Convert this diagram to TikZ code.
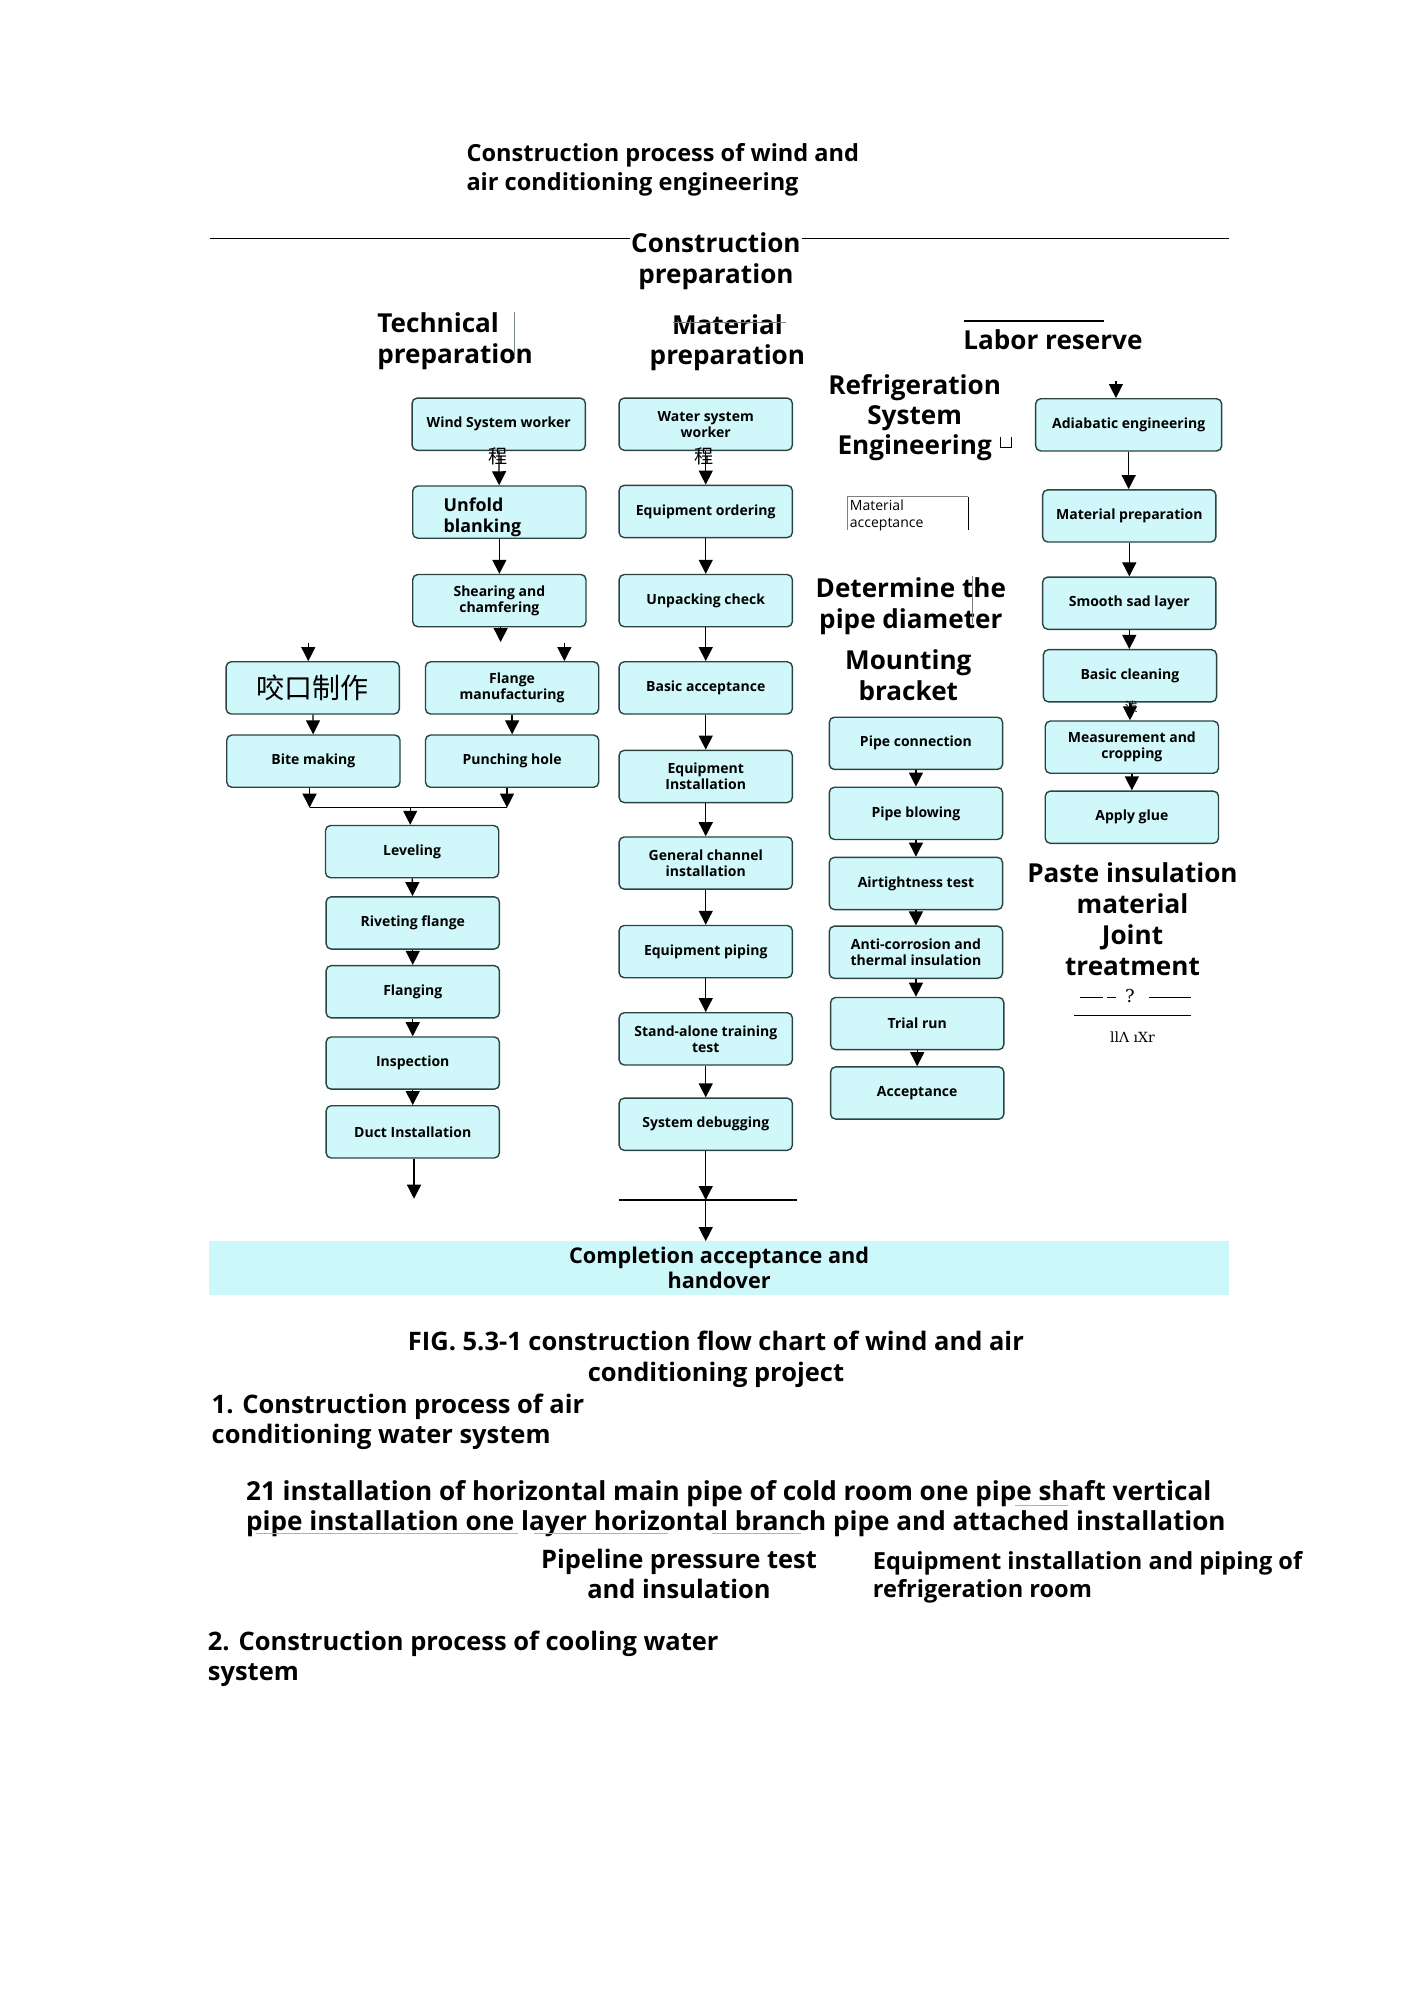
\documentclass[tikz,border=0pt]{standalone}
\usepackage{fontspec}
\setmainfont{Open Sans}
\newfontfamily\cjk{Noto Sans CJK SC}
\newfontfamily\oddfont{DejaVu Serif}
\usetikzlibrary{arrows.meta}
\definecolor{boxfill}{RGB}{208,248,250}
\definecolor{boxline}{RGB}{42,68,68}
\definecolor{barfill}{RGB}{205,248,250}
\definecolor{markgray}{RGB}{120,135,140}
\tikzset{
  stepbox/.style={draw=boxline, fill=boxfill, rounded corners=4pt, line width=1.1pt,
    minimum width=136pt, minimum height=41pt, align=center, inner sep=2pt,
    font=\bfseries\fontsize{11}{12.5}\selectfont},
  flow/.style={arrows={-Triangle[length=11pt,width=11pt]}, line width=1pt},
  headtxt/.style={font=\bfseries\fontsize{20.5}{24}\selectfont, align=center, inner sep=0pt},
  bodytxt/.style={font=\bfseries\fontsize{20}{23.5}\selectfont, align=left, anchor=west, inner sep=0pt},
}
\begin{document}
\begin{tikzpicture}[x=1pt, y=-1pt]
\useasboundingbox (0,0) rectangle (1110,1570);

%headings
\node[bodytxt, font=\bfseries\fontsize{18.5}{23}\selectfont] (title) at (366,133.5)
  {Construction process of wind and\\air conditioning engineering};
\draw[line width=.8pt] (165,187) -- (965,187);
\node[headtxt, fill=white, inner xsep=1pt] (constprep) at (562,205) {Construction\\preparation};
\node[headtxt, align=left, anchor=west] (techprep) at (296,268) {Technical\\preparation};
\draw[markgray, line width=1.2pt] (404,245) -- (404,282);
\node[headtxt] (matprep) at (571,269) {Material\\preparation};
\draw[gray, line width=.6pt] (528,253) -- (617,253);
\node[headtxt, anchor=west] (labor) at (756,267) {Labor reserve};
\draw[line width=1.5pt] (757,252) -- (867,252);
\node[headtxt, font=\bfseries\fontsize{20.5}{23.5}\selectfont] (refrig) at (718,328)
  {Refrigeration\\System\\Engineering};
\draw[line width=.6pt] (785,343) -- (785,351) -- (794,351) -- (794,343);
\node[font=\fontsize{11}{13}\selectfont, align=left, anchor=west, inner sep=0pt] (matacc) at (667,404.5)
  {Material\\acceptance};
\draw[gray, line width=.6pt] (665,416) -- (665,390) -- (760,390);
\draw[line width=1pt] (760,390) -- (760,416);
\node[headtxt] (pipediam) at (715,476) {Determine the\\pipe diameter};
\draw[gray, line width=.6pt] (763,452) -- (763,490);
\node[headtxt] (bracket) at (713,530) {Mounting\\bracket};

%wind system
\node[stepbox] (windwk) at (391.5,333) {Wind System worker};
\node[stepbox] (unfold) at (392,402) {};
\node[font=\bfseries\fontsize{14}{16}\selectfont, align=left, anchor=west, inner sep=0pt]
  (unfoldtxt) at (348,406) {Unfold\\blanking};
\node[stepbox] (shear) at (392,471.5) {Shearing and\\chamfering};
\node[stepbox, font=\cjk\fontsize{22}{24}\selectfont] (bitecn) at (245.5,540) {咬口制作};
\node[stepbox] (flange) at (402,540) {Flange\\manufacturing};
\node[stepbox] (bite) at (246,597.5) {Bite making};
\node[stepbox] (punch) at (402,597.5) {Punching hole};
\node[stepbox] (level) at (323.5,668.5) {Leveling};
\node[stepbox] (rivet) at (324,724.5) {Riveting flange};
\node[stepbox] (flanging) at (324,778.5) {Flanging};
\node[stepbox] (inspect) at (324,834.5) {Inspection};
\node[stepbox] (duct) at (324,888.5) {Duct Installation};

\draw[flow] (windwk) -- (unfold);
\node[font=\cjk\fontsize{15}{15}\selectfont, inner sep=0pt] (glyphwind) at (391,358) {程};
\draw[flow] (unfold) -- (shear);
\coordinate (shearend) at (393,504);
\draw[flow] (shear.south -| shearend) -- (shearend);
\coordinate (bitetop) at (242,505);
\draw[flow] (bitetop) -- (bitetop |- bitecn.north);
\coordinate (flangetop) at (443,505);
\draw[flow] (flangetop) -- (flangetop |- flange.north);
\draw[flow] (bitecn) -- (bite);
\draw[flow] (flange) -- (punch);
\coordinate (joinL) at (243,634);
\coordinate (joinR) at (398,634);
\coordinate (joinM) at (322,634);
\draw[flow] (joinL |- bite.south) -- (joinL);
\draw[flow] (joinR |- punch.south) -- (joinR);
\draw[line width=1pt] (joinL) -- (joinR);
\draw[flow] (joinM) -- (joinM |- level.north);
\foreach \a/\b in {level/rivet, rivet/flanging, flanging/inspect, inspect/duct}
  \draw[flow] (\a) -- (\b);
\coordinate (ductend) at (325,941);
\draw[flow] (duct.south -| ductend) -- (ductend);

%water system
\node[stepbox] (waterwk) at (554,333) {Water system\\worker};
\node[stepbox] (order) at (554,401.5) {Equipment ordering};
\node[stepbox] (unpack) at (554,471.5) {Unpacking check};
\node[stepbox] (basicacc) at (554,540) {Basic acceptance};
\node[stepbox] (equipinst) at (554,609.5) {Equipment\\Installation};
\node[stepbox] (channel) at (554,677.5) {General channel\\installation};
\node[stepbox] (piping) at (554,747) {Equipment piping};
\node[stepbox] (single) at (554,815.5) {Stand-alone training\\test};
\node[stepbox] (debug) at (554,882.5) {System debugging};
\foreach \a/\b in {waterwk/order, order/unpack, unpack/basicacc, basicacc/equipinst,
  equipinst/channel, channel/piping, piping/single, single/debug}
  \draw[flow] (\a) -- (\b);
\node[font=\cjk\fontsize{15}{15}\selectfont, inner sep=0pt] (glyphwater) at (553,358) {程};

%refrigeration system
\node[stepbox] (pipeconn) at (719,583.5) {Pipe connection};
\node[stepbox] (blow) at (719,638.5) {Pipe blowing};
\node[stepbox] (airtight) at (719,693.5) {Airtightness test};
\node[stepbox] (anticorr) at (719,747.5) {Anti-corrosion and\\thermal insulation};
\node[stepbox] (trial) at (720,803.5) {Trial run};
\node[stepbox] (accept) at (720,858) {Acceptance};
\foreach \a/\b in {pipeconn/blow, blow/airtight, airtight/anticorr, anticorr/trial, trial/accept}
  \draw[flow] (\a.south) -- (\a.south |- \b.north);

%insulation
\node[stepbox, minimum width=146pt] (adiab) at (886,333.5) {Adiabatic engineering};
\node[stepbox] (matready) at (886.5,405) {Material preparation};
\node[stepbox] (smooth) at (886.5,473.5) {Smooth sad layer};
\node[stepbox] (clean) at (887,530.5) {Basic cleaning};
\node[stepbox] (measure) at (888.5,586.5) {Measurement and\\cropping};
\node[stepbox] (glue) at (888.5,641.5) {Apply glue};
\coordinate (adtop) at (876,299);
\draw[flow] (adtop) -- (adtop |- adiab.north);
\foreach \a/\b in {adiab/matready, matready/smooth, smooth/clean, clean/measure, measure/glue}
  \draw[flow] (\a.south) -- (\a.south |- \b.north);
\node[font=\cjk\fontsize{10}{10}\selectfont, inner sep=0pt] (glyphclean) at (888,555) {泼};
\node[headtxt, font=\bfseries\fontsize{20.5}{24.3}\selectfont] (paste) at (889,721.5)
  {Paste insulation\\material\\Joint\\treatment};
\draw[line width=.6pt] (848,783) -- (866,783) (869,783) -- (876,783) (902,783) -- (935,783);
\node[font=\oddfont\fontsize{14}{14}\selectfont, inner sep=0pt] (qmark) at (887,782) {?};
\draw[line width=.6pt] (843,797) -- (935,797);
\node[font=\oddfont\fontsize{11}{11}\selectfont, inner sep=0pt] (oddmark) at (889,814) {llΛ ıΧr};

%completion
\coordinate (waterjoin) at (554,942);
\draw[flow] (debug) -- (waterjoin);
\draw[line width=1pt] (486,942) -- (626,942);
\node[fill=barfill, minimum width=801pt, minimum height=42pt, inner sep=0pt, align=center,
  font=\bfseries\fontsize{17}{19.5}\selectfont] (finish) at (564.5,995.5)
  {Completion acceptance and\\handover};
\draw[flow] (waterjoin) -- (waterjoin |- finish.north);

%text below
\node[headtxt, font=\bfseries\fontsize{20}{24}\selectfont] (caption) at (562,1067)
  {FIG. 5.3-1 construction flow chart of wind and air\\conditioning project};
\node[bodytxt] (sec1) at (166,1116) {1. Construction process of air\\conditioning water system};
\node[bodytxt, font=\bfseries\fontsize{20.5}{23.5}\selectfont] (para) at (193,1184.5)
  {21 installation of horizontal main pipe of cold room one pipe shaft vertical\\
   pipe installation one layer horizontal branch pipe and attached installation};
\draw[gray!60, line width=.6pt] (797,1182) -- (838,1182);
\draw[gray!60, line width=.6pt] (201,1204) -- (407,1204) (419,1204) -- (524,1204) (559,1204) -- (629,1204);
\node[headtxt, font=\bfseries\fontsize{20}{23.5}\selectfont] (pressure) at (533,1235.5)
  {Pipeline pressure test\\and insulation};
\node[bodytxt, font=\bfseries\fontsize{18.5}{22}\selectfont] (equipref) at (685,1238)
  {Equipment installation and piping of\\refrigeration room};
\node[bodytxt] (sec2) at (163,1302) {2. Construction process of cooling water\\system};
\end{tikzpicture}
\end{document}
